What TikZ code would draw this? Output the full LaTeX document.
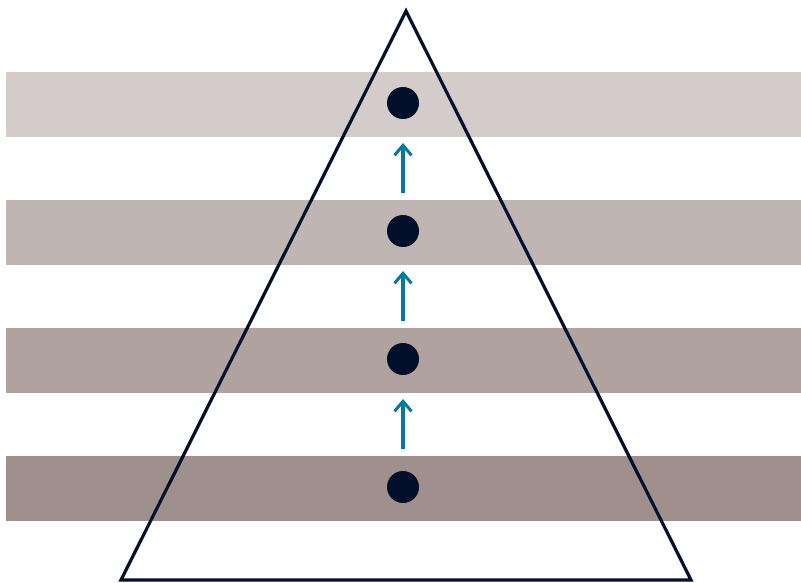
\documentclass[tikz,border=0pt]{standalone}
\usetikzlibrary{arrows.meta}
\definecolor{bandA}{HTML}{D3CCCA}
\definecolor{bandB}{HTML}{BFB5B3}
\definecolor{bandC}{HTML}{AFA29F}
\definecolor{bandD}{HTML}{9F908D}
\definecolor{navy}{HTML}{03102A}
\definecolor{teal}{HTML}{0678A0}
\begin{document}
\begin{tikzpicture}[x=1pt,y=-1pt,
  band/.style={fill=#1,draw=none},
  dot/.style={circle,fill=navy,draw=none,minimum size=32pt,inner sep=0pt},
  uparrow/.style={draw=teal,line width=3.3pt,-{Straight Barb[length=10pt,width=17pt,line width=3pt]}}]
\useasboundingbox (0,0) rectangle (801,583);
\fill[bandA] (6,72) rectangle (801,137);
\fill[bandB] (6,200) rectangle (801,265);
\fill[bandC] (6,328) rectangle (801,393);
\fill[bandD] (6,456) rectangle (801,521);
\coordinate (apex) at (406,11);
\coordinate (bl) at (121,580);
\coordinate (br) at (691,580);
\draw[navy,line width=3.2pt,line join=miter] (apex) -- (br) -- (bl) -- cycle;
\node[dot] (d1) at (403,103) {};
\node[dot] (d2) at (403,231) {};
\node[dot] (d3) at (403,359) {};
\node[dot] (d4) at (403,487) {};
\coordinate (a1s) at (403,193); \coordinate (a1e) at (403,143);
\coordinate (a2s) at (403,321); \coordinate (a2e) at (403,271);
\coordinate (a3s) at (403,449); \coordinate (a3e) at (403,399);
\draw[uparrow] (a1s) -- (a1e);
\draw[uparrow] (a2s) -- (a2e);
\draw[uparrow] (a3s) -- (a3e);
\end{tikzpicture}
\end{document}
